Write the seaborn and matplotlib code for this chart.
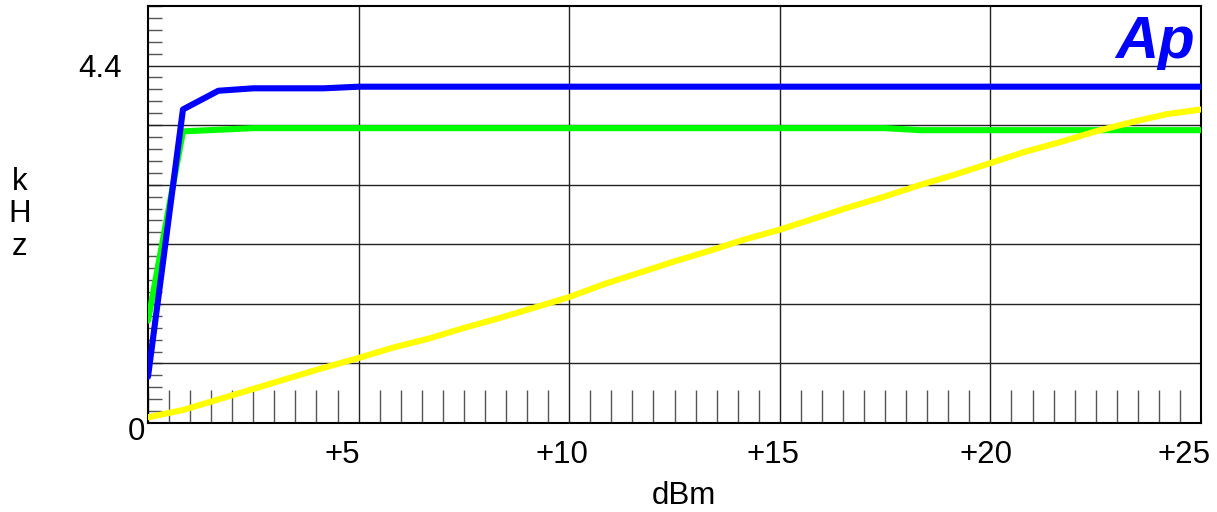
import numpy as np
import pandas as pd
import matplotlib
matplotlib.use("Agg")
import matplotlib.pyplot as plt
from matplotlib.transforms import ScaledTranslation
import seaborn as sns

# ---- data ----
dbm = [0.0, 0.83, 1.67, 2.5, 3.33, 4.17, 5.0, 5.83, 6.67, 7.5, 8.33, 9.17, 10.0,
       10.83, 11.67, 12.5, 13.33, 14.17, 15.0, 15.83, 16.67, 17.5, 18.33, 19.17,
       20.0, 20.83, 21.67, 22.5, 23.33, 24.17, 25.0]
blue_khz = [0.57, 3.86, 4.09, 4.12, 4.12, 4.12, 4.14, 4.14, 4.14, 4.14, 4.14, 4.14,
            4.14, 4.14, 4.14, 4.14, 4.14, 4.14, 4.14, 4.14, 4.14, 4.14, 4.14, 4.14,
            4.14, 4.14, 4.14, 4.14, 4.14, 4.14, 4.14]
green_khz = [1.26, 3.59, 3.61, 3.63, 3.63, 3.63, 3.63, 3.63, 3.63, 3.63, 3.63, 3.63,
             3.63, 3.63, 3.63, 3.63, 3.63, 3.63, 3.63, 3.63, 3.63, 3.63, 3.605, 3.605,
             3.605, 3.605, 3.605, 3.605, 3.605, 3.605, 3.605]
yellow_khz = [0.07, 0.16, 0.29, 0.42, 0.55, 0.68, 0.80, 0.93, 1.04, 1.17, 1.29, 1.42,
              1.55, 1.71, 1.85, 1.99, 2.12, 2.26, 2.38, 2.52, 2.66, 2.79, 2.93, 3.06,
              3.20, 3.34, 3.46, 3.59, 3.70, 3.80, 3.86]
x_tick_values = [5, 10, 15, 20, 25]
x_tick_labels = ["+5", "+10", "+15", "+20", "+25"]
y_tick_values = [0, 4.4]
y_tick_labels = ["0", "4.4"]

df = pd.DataFrame({"dBm": dbm, "blue": blue_khz, "green": green_khz, "yellow": yellow_khz})

sns.set_style("white")
plt.rcParams["font.family"] = ["Liberation Sans", "DejaVu Sans"]
plt.rcParams["text.color"] = "black"
plt.rcParams["axes.labelcolor"] = "black"

FS = 22.5

fig = plt.figure(figsize=(12.17, 5.12), dpi=100)
ax = fig.add_axes([148 / 1217, 1 - 423 / 512, (1201 - 148) / 1217, (423 - 6) / 512])

ymax = 4.4 / 6 * 7
ax.set_xlim(0, 25)
ax.set_ylim(0, ymax)

# grid
for gx in [5, 10, 15, 20]:
    ax.axvline(gx, color="#222222", lw=1.0, zorder=1)
for k in range(1, 7):
    ax.axhline(k * 4.4 / 6, color="#222222", lw=1.0, zorder=1)

# lines
sns.lineplot(data=df, x="dBm", y="green", color="#00FF00", lw=4.4, ax=ax, zorder=3)
sns.lineplot(data=df, x="dBm", y="blue", color="#0000FF", lw=4.4, ax=ax, zorder=4)
sns.lineplot(data=df, x="dBm", y="yellow", color="#FFFF00", lw=4.4, ax=ax, zorder=5)

for s in ax.spines.values():
    s.set_color("black")
    s.set_linewidth(1.5)
    s.set_visible(True)

# ticks
ax.set_xticks(x_tick_values, labels=x_tick_labels)
ax.set_xticks(np.arange(0, 25.01, 0.5), minor=True)
ax.set_yticks(y_tick_values, labels=y_tick_labels)
ax.set_yticks(np.arange(0, ymax + 0.001, 4.4 / 30), minor=True)
ax.tick_params(axis="x", which="major", length=0, labelsize=FS, pad=12, labelcolor="black")
ax.tick_params(axis="x", which="minor", direction="in", length=24, width=1.0,
               color="#555555", bottom=True)
ax.tick_params(axis="y", which="major", length=0, labelsize=FS, labelcolor="black")
ax.tick_params(axis="y", which="minor", direction="in", length=10, width=1.0,
               color="#555555", left=True)

yt = ax.yaxis.get_major_ticks()
yt[0].set_pad(2)
yt[1].set_pad(19)

ax.set_xlabel("dBm", fontsize=FS, color="black")
ax.xaxis.set_label_coords(0.509, -0.175)
ax.xaxis.label.set_va("center")
ax.set_ylabel("k\nH\nz", fontsize=FS, rotation=0, linespacing=1.1, color="black")
ax.yaxis.set_label_coords(-0.1216, 0.5)
ax.yaxis.label.set_va("center")
ax.yaxis.label.set_ha("center")

# Ap logo
ax.text(0.994, 0.875, "Ap", transform=ax.transAxes, ha="right", va="baseline",
        fontsize=43, fontweight="bold", fontstyle="italic", color="#0000FF", zorder=6)

# per-label offsets of x tick labels (pixels)
xt = ax.xaxis.get_major_ticks()
offs = [-16, -7, -7, -4, -17]
for t, dx in zip(xt, offs):
    t.label1.set_transform(t.label1.get_transform() + ScaledTranslation(dx / 100, 0, fig.dpi_scale_trans))
# "0" slightly lower
yt[0].label1.set_transform(yt[0].label1.get_transform() + ScaledTranslation(0, -5 / 100, fig.dpi_scale_trans))

fig.savefig("out.png", dpi=100, facecolor="white")
